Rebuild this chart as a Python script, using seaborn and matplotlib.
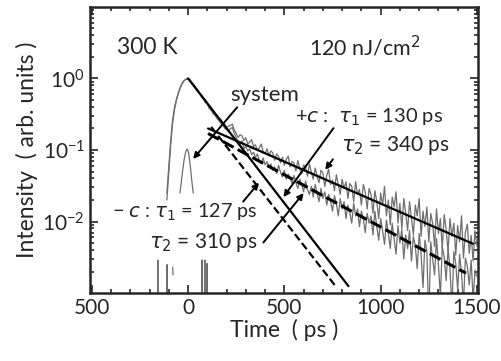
import numpy as np
import pandas as pd
import matplotlib
matplotlib.use("Agg")
import matplotlib.pyplot as plt
import seaborn as sns
from matplotlib.ticker import MultipleLocator, LogLocator, FixedLocator, FixedFormatter, NullFormatter

# ---- data ----
trace_time = np.arange(-110, 1501, 10)  # ps

# +c trace (upper)
trace_plus = [
    0.025, 0.06, 0.14, 0.27, 0.40, 0.52, 0.64, 0.76, 0.87, 0.94, 0.98,
    1.0, 0.96, 0.88, 0.83, 0.74, 0.70, 0.62, 0.59, 0.53, 0.50, 0.44, 0.42, 0.36,
    0.35, 0.31, 0.305, 0.265, 0.27, 0.235, 0.23, 0.205, 0.215, 0.22, 0.23, 0.19,
    0.17, 0.15, 0.163, 0.158, 0.135, 0.148, 0.121, 0.13, 0.139, 0.112,
    0.118, 0.098, 0.108, 0.121, 0.094, 0.089, 0.104, 0.083, 0.097, 0.091,
    0.072, 0.088, 0.081, 0.066, 0.079, 0.061, 0.074, 0.082, 0.058, 0.069,
    0.066, 0.051, 0.071, 0.055, 0.047, 0.062, 0.058, 0.043, 0.064, 0.049,
    0.039, 0.056, 0.043, 0.035, 0.052, 0.048, 0.031, 0.044, 0.054, 0.033,
    0.038, 0.027, 0.045, 0.033, 0.024, 0.039, 0.029, 0.036, 0.021, 0.034,
    0.031, 0.019, 0.036, 0.024, 0.028, 0.017, 0.033, 0.026, 0.015, 0.029,
    0.024, 0.013, 0.027, 0.019, 0.011, 0.025, 0.017, 0.031, 0.012, 0.020,
    0.009, 0.022, 0.016, 0.026, 0.0095, 0.018, 0.008, 0.021, 0.013, 0.0075,
    0.019, 0.011, 0.0065, 0.017, 0.012, 0.021, 0.0062, 0.014, 0.0085, 0.016,
    0.0052, 0.013, 0.0095, 0.0045, 0.015, 0.0068, 0.011, 0.0042, 0.0125, 0.0078,
    0.0038, 0.011, 0.0062, 0.0095, 0.0034, 0.0088, 0.0052, 0.012, 0.0031, 0.0071,
    0.0092, 0.0036, 0.0064, 0.0028, 0.0075, 0.0045,
]

# -c trace (lower)
trace_minus = [
    0.02, 0.05, 0.12, 0.24, 0.37, 0.50, 0.62, 0.74, 0.85, 0.93, 0.97,
    0.98, 0.92, 0.87, 0.78, 0.73, 0.65, 0.62, 0.55, 0.52, 0.46, 0.44, 0.38, 0.36,
    0.32, 0.305, 0.275, 0.26, 0.235, 0.225, 0.2, 0.195, 0.18, 0.2, 0.205, 0.17,
    0.15, 0.128, 0.118, 0.134, 0.105, 0.112, 0.097, 0.104, 0.086, 0.093,
    0.079, 0.088, 0.071, 0.066, 0.077, 0.062, 0.069, 0.057, 0.064, 0.052,
    0.058, 0.047, 0.061, 0.049, 0.042, 0.052, 0.039, 0.046, 0.041, 0.034,
    0.044, 0.035, 0.029, 0.039, 0.033, 0.026, 0.037, 0.028, 0.024, 0.031,
    0.022, 0.033, 0.025, 0.019, 0.029, 0.021, 0.026, 0.017, 0.024, 0.019,
    0.014, 0.023, 0.018, 0.012, 0.021, 0.015, 0.019, 0.011, 0.017, 0.013,
    0.0095, 0.018, 0.012, 0.015, 0.0085, 0.014, 0.011, 0.007, 0.013, 0.0095,
    0.012, 0.0065, 0.014, 0.0085, 0.0055, 0.011, 0.0075, 0.0048, 0.0105, 0.0068,
    0.0042, 0.0095, 0.0058, 0.0035, 0.0088, 0.005, 0.0078, 0.003, 0.0065, 0.0042,
    0.0075, 0.0028, 0.0062, 0.0045, 0.0022, 0.0068, 0.0035, 0.0012, 0.0055, 0.0038,
    0.0004, 0.0052, 0.003, 0.0018, 0.0058, 0.0025, 0.0009, 0.0045, 0.0032, 0.0015,
    0.0042, 0.0022, 0.0006, 0.0038, 0.0026, 0.0011, 0.0035, 0.0019, 0.0007, 0.0031,
    0.0024, 0.0013, 0.0029, 0.0008, 0.0021, 0.0017,
]

# system response
sys_time = [-42, -35, -28, -20, -12, -5, 0, 6, 12, 18, 24, 27]
sys_vals = [0.025, 0.036, 0.052, 0.075, 0.095, 0.103, 0.098, 0.08, 0.058, 0.04, 0.029, 0.025]

# baseline noise spikes near the bottom (segment id, time, value)
spike_seg = [0, 0, 0, 1, 1, 1, 2, 2, 3, 3, 3, 4, 4, 4, 5, 5, 5]
spike_time = [-160, -157, -154, -112, -109, -106, -80, -78, 70, 73, 76, 84, 87, 90, 96, 99, 102]
spike_vals = [1e-4, 2.9e-3, 1e-4, 1e-4, 2.5e-3, 1e-4, 2.3e-3, 1.8e-3,
              1e-4, 2.9e-3, 1e-4, 1e-4, 2.9e-3, 1e-4, 1e-4, 2.6e-3, 1e-4]

# fit lines (end points)
fit_plus_fast_t = [0, 833]
fit_plus_fast_y = [1.0, 1.25e-3]
fit_minus_fast_t = [120, 766]
fit_minus_fast_y = [0.21, 1.25e-3]
fit_plus_slow_t = [104, 1479]
fit_plus_slow_y = [0.20, 4.9e-3]
fit_minus_slow_t = [104, 1443]
fit_minus_slow_y = [0.17, 1.9e-3]

x_ticks = [-500, 0, 500, 1000, 1500]
x_tick_labels = ["500", "0", "500", "1000", "1500"]
y_ticks = [1e-2, 1e-1, 1e0]
y_tick_labels = [r"$\mathdefault{10^{-2}}$", r"$\mathdefault{10^{-1}}$", r"$\mathdefault{10^{0}}$"]

# ---- plot ----
sns.set_style("ticks")
plt.rcParams['font.family'] = ['Lato', 'DejaVu Sans']

fig = plt.figure(figsize=(5.02, 3.61), dpi=100)
ax = fig.add_axes([0.179, 0.188, 0.773, 0.793])
ax.set_yscale("log")

grey = "#6e6e6e"
traces = pd.DataFrame({
    "time": np.concatenate([trace_time, trace_time]),
    "intensity": trace_plus + trace_minus,
    "trace": ["+c"] * len(trace_plus) + ["-c"] * len(trace_minus),
})
sns.lineplot(data=traces, x="time", y="intensity", units="trace", estimator=None,
             sort=False, color=grey, lw=0.9, ax=ax)
sns.lineplot(x=sys_time, y=sys_vals, color=grey, lw=0.9, sort=False, ax=ax)
spikes = pd.DataFrame({"seg": spike_seg, "time": spike_time, "intensity": spike_vals})
sns.lineplot(data=spikes, x="time", y="intensity", units="seg", estimator=None,
             sort=False, color=grey, lw=0.9, ax=ax)

sns.lineplot(x=fit_plus_fast_t, y=fit_plus_fast_y, color="k", lw=1.6, ax=ax)
sns.lineplot(x=fit_minus_fast_t, y=fit_minus_fast_y, color="k", lw=1.6,
             linestyle=(0, (3.5, 1.6)), ax=ax)
sns.lineplot(x=fit_plus_slow_t, y=fit_plus_slow_y, color="k", lw=1.6, ax=ax)
sns.lineplot(x=fit_minus_slow_t, y=fit_minus_slow_y, color="k", lw=2.2,
             linestyle=(0, (4, 1.5)), ax=ax)

# arrows
arrow_kw = dict(arrowstyle="-|>", color="k", lw=1.4, mutation_scale=9, shrinkA=0, shrinkB=0)
ax.annotate("", xy=(26, 0.075), xytext=(255, 0.395), arrowprops=arrow_kw)
ax.annotate("", xy=(495, 0.022), xytext=(755, 0.202), arrowprops=arrow_kw)
ax.annotate("", xy=(712, 0.053), xytext=(752, 0.074), arrowprops=arrow_kw)
ax.annotate("", xy=(368, 0.035), xytext=(286, 0.019), arrowprops=arrow_kw)
ax.annotate("", xy=(600, 0.025), xytext=(391, 0.0051), arrowprops=arrow_kw)

# labels
ax.text(-370, 2.7, "300 K", fontsize=16.5, va="center", ha="left")
ax.text(630, 2.7, "120 nJ/cm$^{2}$", fontsize=15.5, va="center", ha="left")
ax.text(396, 0.58, "system", fontsize=16, va="center", ha="center")
ax.text(557, 0.288, r"+$c$ :  $\tau_1$ = 130 ps", fontsize=14.5, va="center", ha="left")
ax.text(792, 0.114, r"$\tau_2$ = 340 ps", fontsize=15, va="center", ha="left")
ax.text(360, 0.0133, "\u2212 $c$ : $\\tau_1$ = 127 ps", fontsize=14.2, va="center", ha="right")
ax.text(360, 0.0051, r"$\tau_2$ = 310 ps", fontsize=15, va="center", ha="right")

ax.set_xlim(-510, 1505)
ax.set_ylim(1e-3, 10)
ax.xaxis.set_major_locator(FixedLocator(x_ticks))
ax.xaxis.set_major_formatter(FixedFormatter(x_tick_labels))
ax.xaxis.set_minor_locator(MultipleLocator(100))
ax.yaxis.set_major_locator(FixedLocator(y_ticks))
ax.yaxis.set_major_formatter(FixedFormatter(y_tick_labels))
ax.yaxis.set_minor_locator(LogLocator(base=10, subs=np.arange(2, 10)))
ax.yaxis.set_minor_formatter(NullFormatter())

ax.tick_params(which="both", direction="in", top=True, right=True, labelsize=15, width=1.2)
ax.tick_params(which="major", length=6)
ax.tick_params(which="minor", length=3)
for s in ax.spines.values():
    s.set_linewidth(1.8)

ax.set_xlabel("Time  ( ps )", fontsize=16.5, labelpad=1)
ax.set_ylabel("Intensity  ( arb. units )", fontsize=16.5, labelpad=3)

fig.savefig("out.png", dpi=100)
